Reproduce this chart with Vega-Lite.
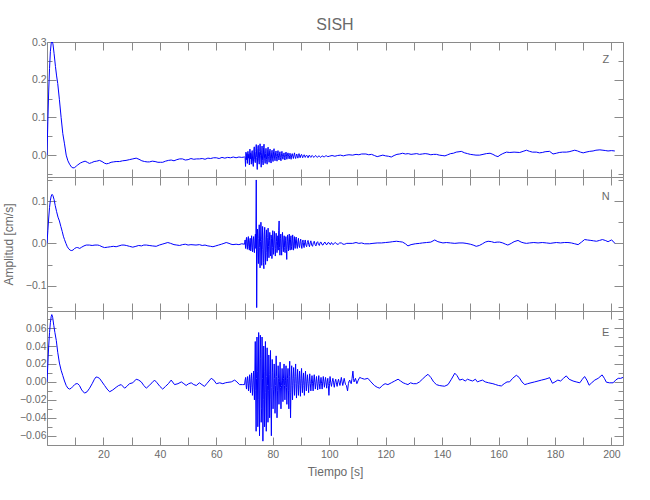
{
  "$schema": "https://vega.github.io/schema/vega-lite/v6.json",
  "padding": {"left": 2, "top": 16, "right": 5, "bottom": 5},
  "config": {
    "view": {"stroke": null},
    "axis": {"domainColor": "#8a8a8a", "tickColor": "#8a8a8a", "domainWidth": 1, "tickWidth": 1, "labelFont": "Liberation Sans", "labelFontSize": 10.5, "labelColor": "#6a6a6a", "titleFont": "Liberation Sans", "titleFontSize": 12, "titleFontWeight": "normal", "titleColor": "#6a6a6a", "grid": false, "labelOverlap": false, "labelFlush": false}
  },
  "datasets": {
    "Z": [
      {"t":0,"v":0},{"t":0.3,"v":0.09},{"t":0.6,"v":0.17},{"t":0.9,"v":0.23},{"t":1.2,"v":0.275},{"t":1.5,"v":0.297},{"t":1.8,"v":0.302},{"t":2.1,"v":0.295},{"t":2.5,"v":0.27},{"t":3.0,"v":0.235},{"t":3.4,"v":0.21},{"t":3.8,"v":0.19},{"t":4.4,"v":0.147},{"t":5.0,"v":0.1},{"t":5.6,"v":0.057},{"t":6.2,"v":0.03},{"t":6.8,"v":0.0},{"t":7.4,"v":-0.015},{"t":8.0,"v":-0.024},{"t":8.6,"v":-0.031},{"t":9.2,"v":-0.034},{"t":9.8,"v":-0.033},{"t":10.4,"v":-0.029},{"t":10.9,"v":-0.026},{"t":11.8,"v":-0.021},{"t":12.7,"v":-0.018},{"t":13.5,"v":-0.016},{"t":14.3,"v":-0.019},{"t":15.0,"v":-0.022},{"t":15.8,"v":-0.02},{"t":16.7,"v":-0.017},{"t":17.6,"v":-0.016},{"t":18.6,"v":-0.014},{"t":19.5,"v":-0.017},{"t":20.3,"v":-0.021},{"t":21.0,"v":-0.023},{"t":21.8,"v":-0.022},{"t":22.7,"v":-0.019},{"t":23.5,"v":-0.018},{"t":24.5,"v":-0.017},{"t":25.7,"v":-0.017},{"t":26.8,"v":-0.015},{"t":28.0,"v":-0.014},{"t":29.2,"v":-0.012},{"t":30.4,"v":-0.01},{"t":31.6,"v":-0.008},{"t":32.6,"v":-0.011},{"t":33.6,"v":-0.015},{"t":34.6,"v":-0.017},{"t":35.5,"v":-0.018},{"t":36.3,"v":-0.018},{"t":37.3,"v":-0.016},{"t":38.3,"v":-0.017},{"t":39.3,"v":-0.019},{"t":40.2,"v":-0.019},{"t":41.0,"v":-0.019},{"t":42,"v":-0.016},{"t":43,"v":-0.014},{"t":44,"v":-0.013},{"t":45,"v":-0.015},{"t":46,"v":-0.012},{"t":47,"v":-0.01},{"t":48,"v":-0.01},{"t":49,"v":-0.013},{"t":50,"v":-0.012},{"t":51,"v":-0.009},{"t":52,"v":-0.011},{"t":53,"v":-0.01},{"t":54,"v":-0.01},{"t":55,"v":-0.009},{"t":56,"v":-0.011},{"t":57,"v":-0.008},{"t":58,"v":-0.009},{"t":59,"v":-0.007},{"t":60,"v":-0.007},{"t":61,"v":-0.009},{"t":62,"v":-0.006},{"t":63,"v":-0.008},{"t":64,"v":-0.006},{"t":65,"v":-0.007},{"t":66,"v":-0.005},{"t":67,"v":-0.007},{"t":68,"v":-0.005},{"t":69,"v":-0.006},
      {"t":70.0,"v":-0.005},{"t":70.2,"v":-0.006},{"t":70.35,"v":-0.03},{"t":70.5,"v":0.008},{"t":70.7,"v":-0.012},{"t":70.85,"v":0.004},{"t":71.0,"v":-0.022},{"t":71.2,"v":0.01},{"t":71.35,"v":-0.008},{"t":71.5,"v":0.002},{"t":71.7,"v":-0.026},{"t":71.9,"v":0.016},{"t":72.05,"v":-0.01},{"t":72.2,"v":0.006},{"t":72.4,"v":-0.024},{"t":72.55,"v":0.004},{"t":72.7,"v":0.012},{"t":72.9,"v":-0.018},{"t":73.1,"v":-0.03},{"t":73.3,"v":0.014},{"t":73.45,"v":0.022},{"t":73.6,"v":-0.012},{"t":73.8,"v":-0.02},{"t":74.0,"v":0.01},{"t":74.15,"v":0.028},{"t":74.3,"v":-0.006},{"t":74.5,"v":-0.038},{"t":74.7,"v":0.018},{"t":74.85,"v":0.026},{"t":75.0,"v":-0.01},{"t":75.2,"v":-0.024},{"t":75.35,"v":0.01},{"t":75.5,"v":0.03},{"t":75.7,"v":-0.002},{"t":75.9,"v":-0.032},{"t":76.05,"v":0.006},{"t":76.2,"v":0.024},{"t":76.4,"v":-0.014},{"t":76.6,"v":-0.026},{"t":76.75,"v":0.02},{"t":76.9,"v":0.029},{"t":77.1,"v":-0.008},{"t":77.3,"v":-0.022},{"t":77.45,"v":0.004},{"t":77.6,"v":0.018},{"t":77.8,"v":-0.012},{"t":78.0,"v":-0.024},{"t":78.2,"v":0.014},{"t":78.35,"v":0.021},{"t":78.5,"v":-0.004},{"t":78.7,"v":-0.019},{"t":78.9,"v":0.012},{"t":79.05,"v":0.016},{"t":79.2,"v":-0.01},{"t":79.4,"v":-0.021},{"t":79.6,"v":0.006},{"t":79.75,"v":0.013},{"t":79.9,"v":-0.008},{"t":80.1,"v":-0.017},{"t":80.3,"v":0.01},{"t":80.45,"v":0.017},{"t":80.6,"v":-0.005},{"t":80.8,"v":-0.015},{"t":81.0,"v":0.006},{"t":81.15,"v":0.011},{"t":81.3,"v":-0.004},{"t":81.5,"v":-0.016},{"t":81.7,"v":0.004},{"t":81.85,"v":0.012},{"t":82.0,"v":-0.002},{"t":82.2,"v":-0.013},{"t":82.4,"v":0.003},{"t":82.55,"v":0.009},{"t":82.7,"v":-0.006},{"t":82.9,"v":-0.015},{"t":83.1,"v":0.004},{"t":83.25,"v":0.01},{"t":83.45,"v":-0.004},{"t":83.6,"v":-0.011},{"t":83.8,"v":0.001},{"t":84.0,"v":0.006},{"t":84.15,"v":-0.006},{"t":84.3,"v":-0.013},{"t":84.5,"v":0.002},{"t":84.7,"v":0.008},{"t":84.9,"v":-0.004},{"t":85.0,"v":-0.011},{"t":85.2,"v":0.0},{"t":85.4,"v":0.006},{"t":85.6,"v":-0.003},{"t":85.8,"v":-0.01},{"t":86.0,"v":-0.001},{"t":86.1,"v":0.005},{"t":86.3,"v":-0.004},{"t":86.5,"v":-0.011},{"t":86.7,"v":0.0},{"t":86.9,"v":0.004},{"t":87.1,"v":-0.003},{"t":87.3,"v":-0.009},{"t":87.5,"v":0.0},{"t":87.7,"v":0.006},{"t":87.9,"v":-0.004},{"t":88.1,"v":-0.009},{"t":88.3,"v":-0.002},{"t":88.5,"v":0.003},{"t":88.7,"v":-0.003},{"t":88.9,"v":-0.008},{"t":89.1,"v":-0.001},{"t":89.3,"v":0.004},{"t":89.5,"v":-0.002},{"t":89.7,"v":-0.007},{"t":89.95,"v":0.0},{"t":90.2,"v":0.002},{"t":90.4,"v":-0.003},{"t":90.6,"v":-0.007},{"t":90.85,"v":-0.001},{"t":91.1,"v":0.001},{"t":91.3,"v":-0.003},{"t":91.5,"v":-0.006},{"t":91.75,"v":-0.002},{"t":92.0,"v":0.0},{"t":92.25,"v":-0.003},{"t":92.5,"v":-0.007},{"t":92.75,"v":-0.002},{"t":93.0,"v":0.0},{"t":93.25,"v":-0.004},{"t":93.5,"v":-0.006},{"t":93.75,"v":-0.002},{"t":94.0,"v":-0.001},{"t":94.3,"v":-0.004},{"t":94.6,"v":-0.006},{"t":94.9,"v":-0.003},{"t":95.2,"v":-0.001},{"t":95.5,"v":-0.004},{"t":95.8,"v":-0.006},{"t":96.1,"v":-0.003},{"t":96.4,"v":-0.002},{"t":96.7,"v":-0.004},{"t":97.0,"v":-0.006},{"t":97.35,"v":-0.003},{"t":97.7,"v":-0.002},{"t":98.05,"v":-0.005},{"t":98.4,"v":-0.004},{"t":98.75,"v":-0.002},{"t":99.1,"v":-0.002},{"t":99.5,"v":-0.004},{"t":100,"v":-0.003},
      {"t":101,"v":-0.001},{"t":102,"v":-0.003},{"t":103,"v":-0.001},{"t":104,"v":0.0},{"t":105,"v":-0.002},{"t":106,"v":0.0},{"t":107,"v":0.001},{"t":108.3,"v":0.0},{"t":109.5,"v":0.002},{"t":110.5,"v":0.001},{"t":111.5,"v":0.003},{"t":113,"v":0.003},{"t":114,"v":0.001},{"t":115,"v":0.002},{"t":116,"v":-0.001},{"t":117,"v":-0.004},{"t":118,"v":-0.002},{"t":119,"v":0.0},{"t":120,"v":-0.002},{"t":121,"v":-0.003},{"t":122,"v":-0.005},{"t":123,"v":-0.001},{"t":124,"v":0.002},{"t":125,"v":0.003},{"t":126,"v":0.005},{"t":127,"v":0.003},{"t":128,"v":0.004},{"t":129,"v":0.002},{"t":130,"v":0.003},{"t":131,"v":0.004},{"t":132,"v":0.002},{"t":133,"v":0.003},{"t":134,"v":0.004},{"t":135,"v":0.003},{"t":136,"v":0.001},{"t":137,"v":0.002},{"t":138,"v":0.002},{"t":139,"v":0.0},{"t":140,"v":-0.001},{"t":141,"v":-0.002},{"t":142,"v":0.001},{"t":143,"v":0.004},{"t":144,"v":0.005},{"t":145,"v":0.008},{"t":146,"v":0.009},{"t":146.8,"v":0.01},{"t":148,"v":0.006},{"t":149,"v":0.004},{"t":150,"v":0.002},{"t":151,"v":0.001},{"t":152,"v":0.0},{"t":153.3,"v":0.0},{"t":154.5,"v":0.002},{"t":155.7,"v":0.004},{"t":157,"v":0.005},{"t":158,"v":0.002},{"t":159,"v":-0.002},{"t":159.8,"v":-0.004},{"t":160.5,"v":0.0},{"t":161.5,"v":0.004},{"t":162.8,"v":0.008},{"t":164,"v":0.007},{"t":165.5,"v":0.008},{"t":167.5,"v":0.007},{"t":168.7,"v":0.01},{"t":169.9,"v":0.013},{"t":171,"v":0.01},{"t":172,"v":0.008},{"t":173.4,"v":0.008},{"t":174.5,"v":0.006},{"t":175.5,"v":0.007},{"t":176.5,"v":0.009},{"t":178.1,"v":0.01},{"t":179.3,"v":0.003},{"t":180.5,"v":0.005},{"t":181.5,"v":0.007},{"t":182.7,"v":0.008},{"t":184,"v":0.008},{"t":185,"v":0.009},{"t":186,"v":0.011},{"t":187,"v":0.013},{"t":188,"v":0.011},{"t":189,"v":0.008},{"t":190,"v":0.006},{"t":191,"v":0.008},{"t":192.3,"v":0.01},{"t":193.5,"v":0.011},{"t":194.5,"v":0.013},{"t":195.9,"v":0.014},{"t":197,"v":0.013},{"t":198,"v":0.012},{"t":198.8,"v":0.011},{"t":200,"v":0.012},{"t":201.2,"v":0.011}
    ],
    "N": [
      {"t":0,"v":0},{"t":0.3,"v":0.03},{"t":0.6,"v":0.06},{"t":0.9,"v":0.085},{"t":1.2,"v":0.102},{"t":1.5,"v":0.112},{"t":1.8,"v":0.116},{"t":2.1,"v":0.113},{"t":2.5,"v":0.104},{"t":2.9,"v":0.09},{"t":3.4,"v":0.075},{"t":3.9,"v":0.062},{"t":4.4,"v":0.053},{"t":4.9,"v":0.04},{"t":5.4,"v":0.028},{"t":5.8,"v":0.017},{"t":6.2,"v":0.009},{"t":6.7,"v":0.0},{"t":7.2,"v":-0.008},{"t":7.7,"v":-0.013},{"t":8.2,"v":-0.016},{"t":8.6,"v":-0.017},{"t":9.2,"v":-0.016},{"t":9.8,"v":-0.012},{"t":10.4,"v":-0.01},{"t":10.9,"v":-0.01},{"t":11.6,"v":-0.012},{"t":12.3,"v":-0.009},{"t":13.1,"v":-0.006},{"t":13.9,"v":-0.004},{"t":15,"v":-0.004},{"t":16,"v":-0.005},{"t":17,"v":-0.004},{"t":18,"v":-0.004},{"t":18.6,"v":-0.005},{"t":19.5,"v":-0.008},{"t":20.4,"v":-0.01},{"t":21.5,"v":-0.009},{"t":22.5,"v":-0.008},{"t":23.5,"v":-0.007},{"t":24.5,"v":-0.008},{"t":25.5,"v":-0.006},{"t":26.5,"v":-0.004},{"t":27.3,"v":-0.004},{"t":28.1,"v":-0.005},{"t":29.2,"v":-0.007},{"t":30.4,"v":-0.009},{"t":31.5,"v":-0.007},{"t":32.5,"v":-0.005},{"t":33.5,"v":-0.006},{"t":34.3,"v":-0.004},{"t":35.2,"v":-0.004},{"t":36.2,"v":-0.005},{"t":37.3,"v":-0.006},{"t":38.7,"v":-0.007},{"t":39.8,"v":-0.004},{"t":40.8,"v":-0.002},{"t":41.8,"v":0.0},{"t":42.8,"v":0.002},{"t":43.8,"v":0.0},{"t":45,"v":-0.003},{"t":46,"v":-0.004},{"t":47,"v":-0.005},{"t":48,"v":-0.003},{"t":49,"v":-0.002},{"t":50,"v":-0.004},{"t":51,"v":-0.003},{"t":52.8,"v":-0.004},{"t":54,"v":-0.003},{"t":55,"v":-0.005},{"t":56,"v":-0.004},{"t":57,"v":-0.006},{"t":58,"v":-0.007},{"t":58.8,"v":-0.008},{"t":59.8,"v":-0.006},{"t":60.8,"v":-0.004},{"t":61.8,"v":-0.002},{"t":62.7,"v":0.0},{"t":63.5,"v":0.002},{"t":64.5,"v":0.0},{"t":65.2,"v":-0.002},{"t":65.9,"v":-0.003},{"t":67,"v":-0.002},{"t":68,"v":-0.003},{"t":69,"v":-0.001},
      {"t":70.0,"v":-0.002},{"t":70.2,"v":0.008},{"t":70.35,"v":-0.012},{"t":70.5,"v":0.004},{"t":70.7,"v":0.014},{"t":70.85,"v":-0.006},{"t":71.0,"v":-0.014},{"t":71.2,"v":0.01},{"t":71.35,"v":0.016},{"t":71.5,"v":-0.008},{"t":71.7,"v":-0.016},{"t":71.85,"v":0.006},{"t":72.0,"v":0.012},{"t":72.2,"v":-0.018},{"t":72.35,"v":-0.004},{"t":72.5,"v":0.018},{"t":72.7,"v":-0.01},{"t":72.85,"v":-0.02},{"t":73.0,"v":0.008},{"t":73.2,"v":0.016},{"t":73.35,"v":-0.014},{"t":73.5,"v":-0.022},{"t":73.7,"v":0.012},{"t":73.85,"v":0.022},{"t":74.0,"v":-0.012},{"t":74.15,"v":0.15},{"t":74.3,"v":-0.152},{"t":74.45,"v":0.01},{"t":74.6,"v":0.034},{"t":74.75,"v":-0.02},{"t":74.9,"v":-0.048},{"t":75.05,"v":0.012},{"t":75.2,"v":0.044},{"t":75.35,"v":-0.01},{"t":75.5,"v":-0.058},{"t":75.65,"v":0.004},{"t":75.8,"v":0.05},{"t":75.95,"v":0.01},{"t":76.1,"v":-0.052},{"t":76.25,"v":-0.014},{"t":76.4,"v":0.04},{"t":76.55,"v":0.006},{"t":76.7,"v":-0.046},{"t":76.85,"v":-0.06},{"t":77.0,"v":0.022},{"t":77.15,"v":0.038},{"t":77.3,"v":-0.016},{"t":77.45,"v":-0.05},{"t":77.6,"v":0.01},{"t":77.75,"v":0.032},{"t":77.9,"v":-0.022},{"t":78.05,"v":-0.042},{"t":78.2,"v":0.014},{"t":78.35,"v":0.036},{"t":78.5,"v":-0.008},{"t":78.65,"v":-0.034},{"t":78.8,"v":0.006},{"t":78.95,"v":0.026},{"t":79.1,"v":-0.018},{"t":79.25,"v":-0.03},{"t":79.4,"v":0.02},{"t":79.55,"v":0.012},{"t":79.7,"v":-0.036},{"t":79.85,"v":-0.01},{"t":80.0,"v":0.03},{"t":80.15,"v":0.008},{"t":80.3,"v":-0.026},{"t":80.45,"v":-0.006},{"t":80.6,"v":0.028},{"t":80.75,"v":0.01},{"t":80.9,"v":-0.03},{"t":81.05,"v":-0.012},{"t":81.2,"v":0.024},{"t":81.35,"v":0.004},{"t":81.5,"v":-0.022},{"t":81.65,"v":-0.006},{"t":81.8,"v":0.018},{"t":81.95,"v":-0.016},{"t":82.1,"v":0.03},{"t":82.25,"v":0.053},{"t":82.4,"v":-0.01},{"t":82.55,"v":-0.028},{"t":82.7,"v":0.012},{"t":82.85,"v":0.022},{"t":83.0,"v":-0.014},{"t":83.15,"v":-0.028},{"t":83.3,"v":0.01},{"t":83.45,"v":0.026},{"t":83.6,"v":-0.006},{"t":83.75,"v":-0.02},{"t":83.9,"v":0.008},{"t":84.05,"v":0.018},{"t":84.2,"v":-0.01},{"t":84.35,"v":-0.022},{"t":84.5,"v":0.006},{"t":84.65,"v":0.016},{"t":84.8,"v":-0.014},{"t":84.95,"v":-0.038},{"t":85.1,"v":0.004},{"t":85.25,"v":0.02},{"t":85.4,"v":-0.004},{"t":85.55,"v":-0.018},{"t":85.7,"v":0.008},{"t":85.85,"v":0.022},{"t":86.0,"v":-0.006},{"t":86.15,"v":-0.016},{"t":86.3,"v":0.01},{"t":86.45,"v":0.018},{"t":86.6,"v":-0.008},{"t":86.75,"v":-0.015},{"t":86.9,"v":0.006},{"t":87.05,"v":0.02},{"t":87.2,"v":-0.004},{"t":87.35,"v":-0.016},{"t":87.5,"v":0.004},{"t":87.65,"v":0.016},{"t":87.8,"v":-0.006},{"t":87.95,"v":-0.012},{"t":88.1,"v":0.008},{"t":88.3,"v":0.015},{"t":88.5,"v":-0.004},{"t":88.7,"v":-0.012},{"t":88.9,"v":0.004},{"t":89.1,"v":0.012},{"t":89.3,"v":-0.006},{"t":89.5,"v":-0.01},{"t":89.7,"v":0.004},{"t":89.9,"v":0.01},{"t":90.1,"v":-0.004},{"t":90.3,"v":-0.012},{"t":90.5,"v":0.002},{"t":90.7,"v":0.008},{"t":90.9,"v":-0.004},{"t":91.1,"v":-0.01},{"t":91.3,"v":0.002},{"t":91.5,"v":0.008},{"t":91.75,"v":-0.004},{"t":92.0,"v":-0.008},{"t":92.25,"v":0.002},{"t":92.5,"v":0.007},{"t":92.75,"v":-0.003},{"t":93.0,"v":-0.008},{"t":93.25,"v":0.001},{"t":93.5,"v":0.006},{"t":93.8,"v":-0.004},{"t":94.1,"v":-0.007},{"t":94.4,"v":0.002},{"t":94.7,"v":0.005},{"t":95.0,"v":-0.003},{"t":95.3,"v":-0.006},{"t":95.6,"v":0.002},{"t":95.9,"v":0.004},{"t":96.2,"v":-0.003},{"t":96.5,"v":-0.005},{"t":96.8,"v":0.002},{"t":97.1,"v":0.003},{"t":97.45,"v":-0.003},{"t":97.8,"v":-0.004},{"t":98.15,"v":0.001},{"t":98.5,"v":0.003},{"t":98.85,"v":-0.002},{"t":99.2,"v":-0.003},{"t":99.6,"v":0.002},{"t":100.0,"v":0.001},{"t":100.4,"v":-0.003},{"t":100.8,"v":0.002},{"t":101.3,"v":-0.003},{"t":101.8,"v":0.0},{"t":102.2,"v":0.002},{"t":102.7,"v":-0.002},{"t":103.2,"v":-0.002},{"t":103.7,"v":0.001},{"t":104.3,"v":0.001},{"t":104.9,"v":-0.002},{"t":105.5,"v":-0.002},{"t":106.2,"v":0.0},{"t":107,"v":0.0},{"t":108.3,"v":0.0},
      {"t":109.5,"v":0.002},{"t":110.5,"v":0.0},{"t":111.5,"v":0.001},{"t":112.5,"v":-0.001},{"t":114.3,"v":-0.001},{"t":115.5,"v":0.0},{"t":117,"v":0.001},{"t":118.5,"v":0.001},{"t":120,"v":0.002},{"t":121.5,"v":0.003},{"t":122.5,"v":0.004},{"t":123.8,"v":0.005},{"t":125,"v":0.004},{"t":126,"v":0.003},{"t":127,"v":-0.001},{"t":127.9,"v":-0.006},{"t":129,"v":-0.003},{"t":130.5,"v":-0.001},{"t":132,"v":0.0},{"t":133,"v":0.001},{"t":134.5,"v":0.002},{"t":136,"v":0.003},{"t":137.4,"v":0.008},{"t":138.5,"v":0.004},{"t":140.3,"v":0.001},{"t":141.5,"v":0.002},{"t":143,"v":0.001},{"t":144.5,"v":0.0},{"t":146,"v":0.001},{"t":147.4,"v":0.001},{"t":148.5,"v":0.0},{"t":150,"v":-0.002},{"t":151,"v":-0.004},{"t":152.1,"v":-0.007},{"t":153.2,"v":-0.005},{"t":154.3,"v":-0.001},{"t":155.3,"v":0.003},{"t":156.3,"v":0.005},{"t":157.5,"v":0.004},{"t":158.5,"v":0.002},{"t":159.5,"v":0.003},{"t":160.4,"v":0.003},{"t":161.5,"v":0.001},{"t":162.5,"v":-0.002},{"t":163.3,"v":-0.004},{"t":164.5,"v":0.0},{"t":165.5,"v":0.004},{"t":166.9,"v":0.007},{"t":168,"v":0.003},{"t":169,"v":0.001},{"t":169.9,"v":0.0},{"t":171,"v":0.001},{"t":172.5,"v":0.002},{"t":174,"v":0.001},{"t":175.5,"v":0.002},{"t":177,"v":0.001},{"t":178.3,"v":0.0},{"t":179.3,"v":0.001},{"t":180.5,"v":0.002},{"t":182,"v":0.001},{"t":183.3,"v":0.002},{"t":184.6,"v":0.002},{"t":185.8,"v":0.001},{"t":187,"v":-0.001},{"t":188.2,"v":-0.003},{"t":189.4,"v":0.003},{"t":190.5,"v":0.009},{"t":191.5,"v":0.008},{"t":192.7,"v":0.007},{"t":193.7,"v":0.006},{"t":194.7,"v":0.005},{"t":195.8,"v":0.007},{"t":196.8,"v":0.009},{"t":197.8,"v":0.007},{"t":198.8,"v":0.004},{"t":199.4,"v":0.006},{"t":200,"v":0.008},{"t":200.6,"v":0.005},{"t":201.2,"v":0.0}
    ],
    "E": [
      {"t":0,"v":0},{"t":0.3,"v":0.02},{"t":0.6,"v":0.04},{"t":0.9,"v":0.055},{"t":1.2,"v":0.066},{"t":1.5,"v":0.073},{"t":1.7,"v":0.075},{"t":2.0,"v":0.072},{"t":2.4,"v":0.063},{"t":2.8,"v":0.055},{"t":3.3,"v":0.046},{"t":3.8,"v":0.033},{"t":4.4,"v":0.021},{"t":5.0,"v":0.013},{"t":5.6,"v":0.007},{"t":6.2,"v":0.001},{"t":6.8,"v":-0.004},{"t":7.4,"v":-0.007},{"t":8.0,"v":-0.008},{"t":8.6,"v":-0.007},{"t":9.2,"v":-0.005},{"t":9.8,"v":-0.003},{"t":10.3,"v":-0.002},{"t":10.9,"v":-0.002},{"t":11.5,"v":-0.004},{"t":12.3,"v":-0.009},{"t":13.3,"v":-0.0125},{"t":14.2,"v":-0.011},{"t":15.1,"v":-0.007},{"t":16,"v":-0.002},{"t":16.8,"v":0.003},{"t":17.4,"v":0.0055},{"t":18.0,"v":0.005},{"t":18.6,"v":0.004},{"t":19.5,"v":0.0},{"t":20.4,"v":-0.004},{"t":21.3,"v":-0.008},{"t":22.2,"v":-0.011},{"t":23.3,"v":-0.009},{"t":24.5,"v":-0.006},{"t":25.4,"v":-0.004},{"t":26.3,"v":-0.003},{"t":27.5,"v":-0.007},{"t":28.3,"v":-0.005},{"t":29.2,"v":-0.002},{"t":30.4,"v":-0.001},{"t":31.6,"v":0.003},{"t":32.5,"v":0.002},{"t":33.4,"v":0.0},{"t":34.3,"v":-0.004},{"t":35.2,"v":-0.007},{"t":36.2,"v":-0.004},{"t":37.2,"v":-0.001},{"t":38.1,"v":0.002},{"t":39,"v":-0.001},{"t":40,"v":-0.005},{"t":41,"v":-0.008},{"t":42,"v":-0.005},{"t":43,"v":-0.002},{"t":44,"v":0.002},{"t":45.2,"v":-0.003},{"t":46.4,"v":-0.002},{"t":47.6,"v":0.0},{"t":48.5,"v":-0.002},{"t":49.3,"v":-0.004},{"t":50.2,"v":-0.002},{"t":51.1,"v":-0.001},{"t":52,"v":-0.003},{"t":52.9,"v":-0.004},{"t":54,"v":-0.001},{"t":54.9,"v":-0.003},{"t":55.8,"v":-0.005},{"t":56.6,"v":-0.002},{"t":57.4,"v":0.001},{"t":58.2,"v":0.004},{"t":59.1,"v":0.002},{"t":60,"v":-0.002},{"t":61.2,"v":-0.001},{"t":62.3,"v":-0.002},{"t":63.2,"v":-0.001},{"t":64.1,"v":-0.0005},{"t":65.3,"v":0.0},{"t":66.5,"v":0.002},{"t":67.3,"v":0.0},{"t":68.2,"v":-0.003},{"t":69.2,"v":-0.003},
      {"t":70.0,"v":-0.003},{"t":70.2,"v":0.002},{"t":70.4,"v":0.005},{"t":70.55,"v":-0.004},{"t":70.7,"v":-0.008},{"t":70.9,"v":0.002},{"t":71.1,"v":0.006},{"t":71.25,"v":-0.002},{"t":71.4,"v":-0.01},{"t":71.6,"v":0.0},{"t":71.8,"v":0.008},{"t":71.95,"v":-0.004},{"t":72.1,"v":-0.012},{"t":72.3,"v":0.004},{"t":72.5,"v":0.01},{"t":72.65,"v":-0.006},{"t":72.8,"v":-0.015},{"t":73.0,"v":0.002},{"t":73.2,"v":0.012},{"t":73.35,"v":-0.008},{"t":73.5,"v":-0.02},{"t":73.65,"v":0.01},{"t":73.8,"v":0.045},{"t":73.95,"v":-0.01},{"t":74.1,"v":-0.055},{"t":74.25,"v":0.004},{"t":74.4,"v":0.05},{"t":74.55,"v":0.012},{"t":74.7,"v":-0.05},{"t":74.85,"v":-0.02},{"t":75.0,"v":0.055},{"t":75.15,"v":0.02},{"t":75.3,"v":-0.06},{"t":75.45,"v":-0.01},{"t":75.6,"v":0.052},{"t":75.75,"v":0.026},{"t":75.9,"v":-0.045},{"t":76.05,"v":-0.03},{"t":76.2,"v":0.05},{"t":76.35,"v":0.004},{"t":76.5,"v":-0.066},{"t":76.65,"v":-0.02},{"t":76.8,"v":0.04},{"t":76.95,"v":0.012},{"t":77.1,"v":-0.05},{"t":77.25,"v":-0.008},{"t":77.4,"v":0.045},{"t":77.55,"v":-0.012},{"t":77.7,"v":-0.055},{"t":77.85,"v":0.006},{"t":78.0,"v":0.038},{"t":78.15,"v":-0.004},{"t":78.3,"v":-0.045},{"t":78.45,"v":-0.01},{"t":78.6,"v":0.03},{"t":78.75,"v":0.008},{"t":78.9,"v":-0.04},{"t":79.05,"v":0.0},{"t":79.2,"v":0.035},{"t":79.35,"v":-0.02},{"t":79.5,"v":-0.06},{"t":79.65,"v":-0.006},{"t":79.8,"v":0.025},{"t":79.95,"v":0.01},{"t":80.1,"v":-0.03},{"t":80.3,"v":-0.008},{"t":80.5,"v":0.02},{"t":80.65,"v":0.004},{"t":80.8,"v":-0.035},{"t":81.0,"v":-0.004},{"t":81.2,"v":0.029},{"t":81.35,"v":0.006},{"t":81.5,"v":-0.04},{"t":81.7,"v":-0.01},{"t":81.9,"v":0.018},{"t":82.05,"v":0.004},{"t":82.2,"v":-0.025},{"t":82.4,"v":0.0},{"t":82.6,"v":0.022},{"t":82.75,"v":-0.006},{"t":82.9,"v":-0.03},{"t":83.1,"v":-0.004},{"t":83.3,"v":0.015},{"t":83.45,"v":0.002},{"t":83.6,"v":-0.022},{"t":83.8,"v":0.004},{"t":84.0,"v":0.02},{"t":84.15,"v":-0.004},{"t":84.3,"v":-0.02},{"t":84.5,"v":0.002},{"t":84.7,"v":0.018},{"t":84.85,"v":-0.006},{"t":85.0,"v":-0.025},{"t":85.2,"v":0.004},{"t":85.4,"v":0.015},{"t":85.55,"v":-0.01},{"t":85.7,"v":-0.03},{"t":85.85,"v":0.006},{"t":86.0,"v":0.023},{"t":86.15,"v":-0.012},{"t":86.3,"v":-0.04},{"t":86.5,"v":0.002},{"t":86.7,"v":0.018},{"t":86.85,"v":-0.004},{"t":87.0,"v":-0.02},{"t":87.2,"v":0.004},{"t":87.4,"v":0.016},{"t":87.55,"v":-0.002},{"t":87.7,"v":-0.015},{"t":87.9,"v":0.006},{"t":88.1,"v":0.02},{"t":88.25,"v":-0.002},{"t":88.4,"v":-0.018},{"t":88.6,"v":0.002},{"t":88.8,"v":0.014},{"t":88.95,"v":-0.003},{"t":89.1,"v":-0.015},{"t":89.3,"v":0.002},{"t":89.5,"v":0.012},{"t":89.65,"v":-0.004},{"t":89.8,"v":-0.016},{"t":90.0,"v":0.004},{"t":90.2,"v":0.015},{"t":90.35,"v":-0.002},{"t":90.5,"v":-0.012},{"t":90.7,"v":0.002},{"t":90.9,"v":0.01},{"t":91.05,"v":-0.004},{"t":91.2,"v":-0.015},{"t":91.4,"v":0.002},{"t":91.6,"v":0.012},{"t":91.75,"v":0.0},{"t":91.9,"v":-0.01},{"t":92.1,"v":0.0},{"t":92.3,"v":0.008},{"t":92.5,"v":-0.002},{"t":92.7,"v":-0.012},{"t":92.9,"v":0.0},{"t":93.1,"v":0.009},{"t":93.3,"v":-0.002},{"t":93.5,"v":-0.01},{"t":93.7,"v":0.0},{"t":93.9,"v":0.007},{"t":94.1,"v":-0.002},{"t":94.3,"v":-0.01},{"t":94.5,"v":0.001},{"t":94.7,"v":0.008},{"t":94.9,"v":-0.001},{"t":95.1,"v":-0.008},{"t":95.3,"v":0.0},{"t":95.5,"v":0.006},{"t":95.7,"v":-0.002},{"t":95.9,"v":-0.009},{"t":96.1,"v":0.0},{"t":96.3,"v":0.007},{"t":96.5,"v":-0.002},{"t":96.7,"v":-0.008},{"t":96.9,"v":0.0},{"t":97.1,"v":0.005},{"t":97.3,"v":-0.002},{"t":97.5,"v":-0.008},{"t":97.7,"v":0.0},{"t":97.9,"v":0.006},{"t":98.1,"v":0.0},{"t":98.3,"v":-0.006},{"t":98.5,"v":0.0},{"t":98.7,"v":0.005},{"t":98.9,"v":-0.001},{"t":99.1,"v":-0.007},{"t":99.3,"v":0.0},{"t":99.5,"v":0.004},{"t":99.7,"v":-0.004},{"t":99.9,"v":-0.015},{"t":100.1,"v":-0.002},{"t":100.3,"v":0.006},{"t":100.55,"v":-0.001},{"t":100.8,"v":-0.005},{"t":101.05,"v":0.0},{"t":101.3,"v":0.004},{"t":101.55,"v":-0.001},{"t":101.8,"v":-0.006},{"t":102.05,"v":0.0},{"t":102.3,"v":0.003},{"t":102.55,"v":-0.001},{"t":102.8,"v":-0.005},{"t":103.05,"v":0.0},{"t":103.3,"v":0.003},{"t":103.55,"v":-0.001},{"t":103.8,"v":-0.004},{"t":104.05,"v":0.001},{"t":104.3,"v":0.005},{"t":104.55,"v":0.0},{"t":104.8,"v":-0.004},{"t":105.05,"v":0.0},{"t":105.3,"v":0.004},{"t":105.55,"v":0.0},{"t":105.8,"v":-0.003},{"t":106.1,"v":-0.004},{"t":106.5,"v":-0.01},{"t":106.8,"v":-0.002},{"t":107.05,"v":0.001},{"t":107.3,"v":0.002},{"t":107.55,"v":-0.001},{"t":107.8,"v":-0.002},{"t":108.1,"v":0.004},{"t":108.4,"v":0.012},{"t":108.6,"v":0.004},{"t":108.8,"v":0.0},{"t":109.05,"v":0.002},{"t":109.3,"v":0.004},{"t":109.55,"v":0.001},{"t":109.8,"v":-0.002},{"t":110.3,"v":0.002},{"t":110.8,"v":0.005},
      {"t":111.5,"v":0.004},{"t":112.5,"v":0.003},{"t":113.7,"v":0.004},{"t":114.8,"v":0.0},{"t":116,"v":-0.004},{"t":117,"v":-0.006},{"t":117.9,"v":-0.007},{"t":118.8,"v":-0.004},{"t":119.8,"v":-0.002},{"t":120.8,"v":-0.003},{"t":122,"v":-0.001},{"t":123.2,"v":0.001},{"t":124.4,"v":0.003},{"t":125.3,"v":0.001},{"t":126.2,"v":-0.001},{"t":127,"v":-0.002},{"t":127.9,"v":-0.003},{"t":128.8,"v":-0.001},{"t":129.8,"v":-0.002},{"t":130.9,"v":-0.002},{"t":132,"v":0.0},{"t":133,"v":0.003},{"t":134,"v":0.006},{"t":135,"v":0.0085},{"t":136,"v":0.005},{"t":137,"v":0.0},{"t":138,"v":-0.003},{"t":139,"v":-0.004},{"t":140,"v":-0.0045},{"t":140.9,"v":-0.0048},{"t":142.1,"v":-0.003},{"t":143.3,"v":0.003},{"t":144.5,"v":0.0097},{"t":145.3,"v":0.007},{"t":146.2,"v":0.002},{"t":147.2,"v":0.003},{"t":148.2,"v":0.001},{"t":149,"v":0.003},{"t":149.8,"v":0.002},{"t":150.8,"v":0.001},{"t":151.8,"v":0.003},{"t":152.5,"v":0.0},{"t":153.3,"v":0.001},{"t":154.3,"v":0.002},{"t":155.3,"v":0.0},{"t":156.5,"v":-0.001},{"t":158,"v":-0.002},{"t":159,"v":-0.003},{"t":160,"v":-0.004},{"t":161,"v":-0.0045},{"t":162,"v":-0.002},{"t":163,"v":0.0},{"t":163.9,"v":0.0},{"t":165,"v":0.004},{"t":166.3,"v":0.0074},{"t":167.3,"v":0.005},{"t":168.3,"v":0.0},{"t":169.3,"v":-0.003},{"t":170.3,"v":-0.002},{"t":171.5,"v":-0.001},{"t":172.8,"v":0.0},{"t":174,"v":0.001},{"t":175.2,"v":0.002},{"t":176.5,"v":0.003},{"t":177.5,"v":0.004},{"t":178.1,"v":0.0048},{"t":179.1,"v":-0.0015},{"t":180,"v":0.0},{"t":181,"v":0.002},{"t":182,"v":0.001},{"t":183,"v":0.004},{"t":184,"v":0.0067},{"t":185,"v":0.003},{"t":186.4,"v":0.001},{"t":187.5,"v":0.0},{"t":188.8,"v":-0.001},{"t":189.7,"v":0.003},{"t":190.5,"v":0.006},{"t":191.3,"v":0.002},{"t":192.1,"v":-0.0037},{"t":193,"v":-0.001},{"t":194.1,"v":0.002},{"t":195.3,"v":0.004},{"t":196.7,"v":0.0078},{"t":197.5,"v":0.004},{"t":198.2,"v":-0.0003},{"t":199.3,"v":-0.001},{"t":200.6,"v":-0.001},{"t":201.5,"v":0.002},{"t":202.4,"v":0.004},{"t":203.3,"v":0.004},{"t":204.1,"v":0.005}
    ]
  },
  "spacing": 0,
  "bounds": "flush",
  "vconcat": [
    {
      "width": 576, "height": 135,
      "title": {"text": "SISH", "fontSize": 16, "font": "Liberation Sans", "fontWeight": "normal", "color": "#6a6a6a", "anchor": "middle", "offset": 4.5},
      "layer": [
        {"data": {"name": "Z"}, "mark": {"type": "line", "color": "#0000ff", "strokeWidth": 1, "clip": true},
         "encoding": {
           "x": {"field": "t", "type": "quantitative", "scale": {"domain": [0, 204.1], "nice": false, "zero": false},
                 "axis": {"orient": "bottom", "values": [0,10,20,30,40,50,60,70,80,90,100,110,120,130,140,150,160,170,180,190,200], "tickSize": -8, "labels": false, "title": null}},
           "y": {"field": "v", "type": "quantitative", "scale": {"domain": [-0.058, 0.3], "nice": false, "zero": false},
                 "axis": {"orient": "left", "values": [-0.05,0,0.05,0.1,0.15,0.2,0.25,0.3], "format": ".1f", "minExtent": 27, "maxExtent": 27, "labelPadding": 10,
                          "tickSize": {"condition": {"test": "abs(datum.value*10-round(datum.value*10))<0.01", "value": -9}, "value": -5},
                          "labelExpr": "abs(datum.value*10-round(datum.value*10))<0.01 ? datum.label : ''", "title": null}}
         }},
        {"data": {"values": [{"label": "Z"}]}, "mark": {"type": "text", "font": "Liberation Sans", "fontSize": 11, "color": "#6a6a6a"},
         "encoding": {
           "x": {"datum": 198, "type": "quantitative", "axis": {"orient": "top", "values": [0,10,20,30,40,50,60,70,80,90,100,110,120,130,140,150,160,170,180,190,200], "tickSize": -8, "labels": false, "title": null}},
           "y": {"datum": 0.252, "type": "quantitative", "axis": {"orient": "right", "values": [-0.05,0,0.05,0.1,0.15,0.2,0.25,0.3], "labels": false, "title": null,
                 "tickSize": {"condition": {"test": "abs(datum.value*10-round(datum.value*10))<0.01", "value": -9}, "value": -5}}},
           "text": {"field": "label"}
         }}
      ]
    },
    {
      "width": 576, "height": 134,
      "layer": [
        {"data": {"name": "N"}, "mark": {"type": "line", "color": "#0000ff", "strokeWidth": 1, "clip": true},
         "encoding": {
           "x": {"field": "t", "type": "quantitative", "scale": {"domain": [0, 204.1], "nice": false, "zero": false},
                 "axis": {"orient": "bottom", "values": [0,10,20,30,40,50,60,70,80,90,100,110,120,130,140,150,160,170,180,190,200], "tickSize": -8, "labels": false, "title": null}},
           "y": {"field": "v", "type": "quantitative", "scale": {"domain": [-0.16, 0.157], "nice": false, "zero": false},
                 "axis": {"orient": "left", "values": [-0.15,-0.1,-0.05,0,0.05,0.1,0.15], "format": ".1f", "minExtent": 27, "maxExtent": 27, "labelPadding": 10, "titlePadding": 5,
                          "tickSize": {"condition": {"test": "abs(datum.value*10-round(datum.value*10))<0.01", "value": -9}, "value": -5},
                          "labelExpr": "abs(datum.value*10-round(datum.value*10))<0.01 ? datum.label : ''", "title": "Amplitud [cm/s]"}}
         }},
        {"data": {"values": [{"label": "N"}]}, "mark": {"type": "text", "font": "Liberation Sans", "fontSize": 11, "color": "#6a6a6a"},
         "encoding": {
           "x": {"datum": 198, "type": "quantitative", "axis": {"orient": "top", "values": [0,10,20,30,40,50,60,70,80,90,100,110,120,130,140,150,160,170,180,190,200], "tickSize": -8, "labels": false, "title": null}},
           "y": {"datum": 0.109, "type": "quantitative", "axis": {"orient": "right", "values": [-0.15,-0.1,-0.05,0,0.05,0.1,0.15], "labels": false, "title": null,
                 "tickSize": {"condition": {"test": "abs(datum.value*10-round(datum.value*10))<0.01", "value": -9}, "value": -5}}},
           "text": {"field": "label"}
         }}
      ]
    },
    {
      "width": 576, "height": 134,
      "layer": [
        {"data": {"name": "E"}, "mark": {"type": "line", "color": "#0000ff", "strokeWidth": 1, "clip": true},
         "encoding": {
           "x": {"field": "t", "type": "quantitative", "scale": {"domain": [0, 204.1], "nice": false, "zero": false},
                 "axis": {"orient": "bottom", "values": [0,10,20,30,40,50,60,70,80,90,100,110,120,130,140,150,160,170,180,190,200], "tickSize": -8, "labelPadding": 12, "titlePadding": 7,
                          "labelExpr": "datum.value > 0 && datum.value % 20 == 0 ? datum.label : ''", "title": "Tiempo [s]"}},
           "y": {"field": "v", "type": "quantitative", "scale": {"domain": [-0.0703, 0.079], "nice": false, "zero": false},
                 "axis": {"orient": "left", "values": [-0.07,-0.06,-0.05,-0.04,-0.03,-0.02,-0.01,0,0.01,0.02,0.03,0.04,0.05,0.06,0.07], "format": ".2f", "minExtent": 27, "maxExtent": 27, "labelPadding": 10,
                          "tickSize": {"condition": {"test": "abs(datum.value*50-round(datum.value*50))<0.01", "value": -9}, "value": -5},
                          "labelExpr": "abs(datum.value*50-round(datum.value*50))<0.01 ? datum.label : ''", "title": null}}
         }},
        {"data": {"values": [{"label": "E"}]}, "mark": {"type": "text", "font": "Liberation Sans", "fontSize": 11, "color": "#6a6a6a"},
         "encoding": {
           "x": {"datum": 198, "type": "quantitative", "axis": {"orient": "top", "values": [0,10,20,30,40,50,60,70,80,90,100,110,120,130,140,150,160,170,180,190,200], "tickSize": -8, "labels": false, "title": null}},
           "y": {"datum": 0.0548, "type": "quantitative", "axis": {"orient": "right", "values": [-0.07,-0.06,-0.05,-0.04,-0.03,-0.02,-0.01,0,0.01,0.02,0.03,0.04,0.05,0.06,0.07], "labels": false, "title": null,
                 "tickSize": {"condition": {"test": "abs(datum.value*50-round(datum.value*50))<0.01", "value": -9}, "value": -5}}},
           "text": {"field": "label"}
         }}
      ]
    }
  ]
}
